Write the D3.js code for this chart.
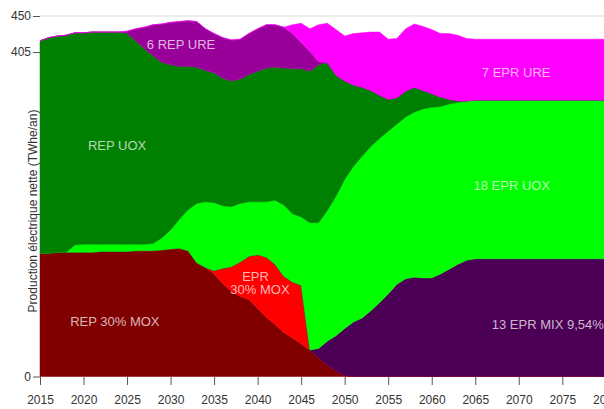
<!DOCTYPE html>
<html>
<head>
<meta charset="utf-8">
<script src="https://cdn.jsdelivr.net/npm/d3@7"></script>
<style>
body { margin: 0; background: #fff; }
svg { display: block; font-family: "Liberation Sans", Arial, sans-serif; }
</style>
</head>
<body>
<svg width="604" height="409"></svg>
<script>
// années 2015 -> 2080
var years = d3.range(2015, 2081);

// production par filière (TWhe/an), lue sur le graphique
// une ligne = 10 ans (2015-2024, 2025-2034, ... 2075-2080)
var repMox = [
    154, 154, 155, 155, 155, 155, 155, 156, 156, 156,
    156, 157, 157, 157, 158, 159, 160, 157, 142, 136,
    128, 116, 106, 100, 96, 85, 74, 65, 55, 48,
    41, 33, 23, 14, 7, 1, 0, 0, 0, 0,
    0, 0, 0, 0, 0, 0, 0, 0, 0, 0,
    0, 0, 0, 0, 0, 0, 0, 0, 0, 0,
    0, 0, 0, 0, 0, 0];

var eprMox = [
    0, 0, 0, 0, 0, 0, 0, 0, 0, 0,
    0, 0, 0, 0, 0, 0, 0, 0, 0, 0,
    4, 19, 31, 43, 54, 67, 75, 75, 70, 70,
    73, 0, 0, 0, 0, 0, 0, 0, 0, 0,
    0, 0, 0, 0, 0, 0, 0, 0, 0, 0,
    0, 0, 0, 0, 0, 0, 0, 0, 0, 0,
    0, 0, 0, 0, 0, 0];

var eprMix = [
    0, 0, 0, 0, 0, 0, 0, 0, 0, 0,
    0, 0, 0, 0, 0, 0, 0, 0, 0, 0,
    0, 0, 0, 0, 0, 0, 0, 0, 0, 0,
    0, 0, 12, 30, 44, 59, 68, 73, 82, 92,
    103, 115, 122, 124, 123, 123, 128, 134, 140, 145,
    147, 147, 147, 147, 147, 147, 147, 147, 147, 147,
    147, 147, 147, 147, 147, 147];

var eprUox = [
    0, 0, 0, 0, 9, 10, 10, 9, 9, 9,
    9, 8, 8, 9, 15, 24, 36, 51, 74, 82,
    85, 78, 75, 73, 68, 66, 69, 80, 89, 85,
    85, 159, 157, 163, 174, 186, 194, 202, 205, 205,
    203, 200, 202, 206, 211, 213, 209, 206, 202, 199,
    198, 198, 198, 198, 198, 198, 198, 198, 198, 198,
    198, 198, 198, 198, 198, 198];

var repUox = [
    265, 269, 270, 271, 265, 264, 265, 265, 265, 265,
    263, 254, 244, 234, 219, 206, 191, 179, 170, 164,
    162, 159, 157, 155, 159, 163, 167, 166, 171, 181,
    185, 189, 197, 185, 151, 123, 102, 86, 70, 54,
    40, 33, 32, 31, 23, 17, 12, 6, 2, 0,
    0, 0, 0, 0, 0, 0, 0, 0, 0, 0,
    0, 0, 0, 0, 0, 0];

var repUre = [
    0, 0, 0, 0, 0, 0, 0, 0, 0, 0,
    3, 15, 27, 39, 48, 53, 56, 57, 57, 52,
    49, 51, 51, 50, 51, 53, 54, 53, 51, 44,
    33, 25, 4, 0, 0, 0, 0, 0, 0, 0,
    0, 0, 0, 0, 0, 0, 0, 0, 0, 0,
    0, 0, 0, 0, 0, 0, 0, 0, 0, 0,
    0, 0, 0, 0, 0, 0];

var eprUre = [
    0, 0, 0, 0, 0, 0, 0, 0, 0, 0,
    0, 0, 0, 0, 0, 0, 0, 0, 0, 0,
    0, 0, 0, 0, 0, 0, 0, 0, 0, 11,
    24, 28, 46, 49, 57, 56, 64, 68, 73, 79,
    75, 74, 78, 79, 80, 80, 79, 82, 82, 78,
    76, 76, 76, 76, 76, 76, 76, 76, 76, 76,
    76, 76, 76, 76, 76, 76];

var keys = ["REP 30% MOX", "EPR 30% MOX", "13 EPR MIX 9,54%", "18 EPR UOX", "REP UOX", "6 REP URE", "7 EPR URE"];
var series = [repMox, eprMox, eprMix, eprUox, repUox, repUre, eprUre];
var colors = ["#800000", "#ff0000", "#4b0055", "#00ff00", "#008000", "#990099", "#ff00ff"];

var yTicks = [0, 405, 450];
var xTicks = d3.range(2015, 2081, 5);

var table = years.map(function (yr, i) {
    var row = { year: yr };
    keys.forEach(function (k, j) { row[k] = series[j][i] || 0; });
    return row;
});

var svg = d3.select("svg");

var x = d3.scaleLinear().domain([2015, 2075]).range([40, 562.3]);
var y = d3.scaleLinear().domain([0, 450]).range([376.5, 16]);

// ligne grise à 450
svg.append("line")
    .attr("x1", x(2015)).attr("x2", 604)
    .attr("y1", y(450)).attr("y2", y(450))
    .attr("stroke", "#dcdcdc")
    .attr("stroke-width", 1);

var stacked = d3.stack().keys(keys)(table);

var area = d3.area()
    .x(function (d) { return x(d.data.year); })
    .y0(function (d) { return y(d[0]); })
    .y1(function (d) { return y(d[1]); });

svg.append("g")
    .selectAll("path")
    .data(stacked)
    .enter().append("path")
    .attr("d", area)
    .attr("fill", function (d, i) { return colors[i]; })
    .attr("stroke", function (d, i) { return colors[i]; })
    .attr("stroke-width", 0.5);

// axes
var gy = svg.append("g")
    .attr("transform", "translate(40,0)")
    .call(d3.axisLeft(y).tickValues(yTicks).tickSize(7).tickPadding(2));

var gx = svg.append("g")
    .attr("transform", "translate(0,377)")
    .call(d3.axisBottom(x).tickValues(xTicks).tickFormat(d3.format("d")).tickSize(8).tickPadding(10));

[gx, gy].forEach(function (g) {
    g.select(".domain").remove();
    g.selectAll(".tick line").attr("stroke", "#555");
    g.selectAll(".tick text")
        .attr("fill", "#333")
        .style("font-size", "12px")
        .style("font-family", "Liberation Sans, Arial, sans-serif");
});

svg.append("text")
    .attr("transform", "translate(37," + 211 + ") rotate(-90)")
    .attr("text-anchor", "middle")
    .attr("fill", "#333")
    .style("font-size", "12px")
    .text("Production électrique nette (TWhe/an)");

// étiquettes des filières (placées en coordonnées année / TWhe)
var labels = [
    { t: "6 REP URE", yr: 2031.2, v: 409.4, a: "middle" },
    { t: "7 EPR URE", yr: 2069.7, v: 374.2, a: "middle" },
    { t: "REP UOX", yr: 2023.85, v: 282.7, a: "middle" },
    { t: "18 EPR UOX", yr: 2069.2, v: 233.4, a: "middle" },
    { t: "EPR", yr: 2039.76, v: 119.8, a: "middle" },
    { t: "30% MOX", yr: 2040.27, v: 102.4, a: "middle" },
    { t: "REP 30% MOX", yr: 2023.6, v: 63, a: "middle" },
    { t: "13 EPR MIX 9,54%", yr: 2066.9, v: 58.7, a: "start" }
];

svg.append("g")
    .selectAll("text")
    .data(labels)
    .enter().append("text")
    .attr("x", function (d) { return x(d.yr); })
    .attr("y", function (d) { return y(d.v); })
    .attr("text-anchor", function (d) { return d.a; })
    .attr("fill", "#fff")
    .attr("fill-opacity", 0.72)
    .style("font-size", "13px")
    .text(function (d) { return d.t; });
</script>
</body>
</html>
